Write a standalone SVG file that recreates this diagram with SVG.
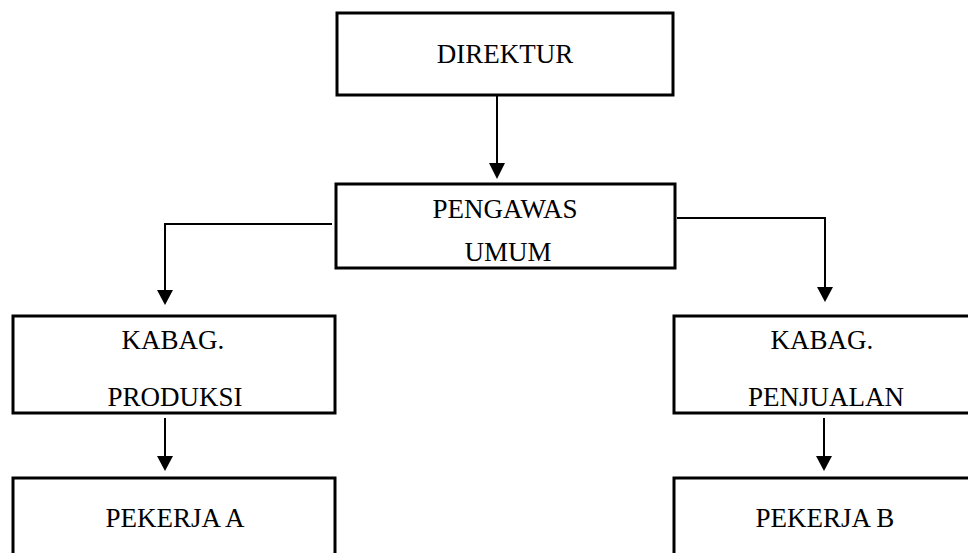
<svg xmlns="http://www.w3.org/2000/svg" width="968" height="553" viewBox="0 0 968 553">
<style>
.box{fill:#fff;stroke:#000;stroke-width:3}
.t{font-family:"Liberation Serif","Times New Roman",serif;font-size:27px;fill:#000;text-anchor:middle}
.c{fill:none;stroke:#000;stroke-width:2}
.h{fill:#000}
</style>
<rect width="968" height="553" fill="#fff"/>
<g id="direktur"><rect class="box" x="337" y="13" width="336" height="82"/><text class="t" x="505" y="63">DIREKTUR</text></g>
<g id="pengawas"><rect class="box" x="336" y="184" width="339" height="84"/><text class="t" x="505" y="218">PENGAWAS</text><text class="t" x="508" y="261">UMUM</text></g>
<g id="kabag-produksi"><rect class="box" x="13" y="316" width="322" height="97"/><text class="t" x="173" y="349">KABAG.</text><text class="t" x="175" y="406">PRODUKSI</text></g>
<g id="kabag-penjualan"><rect class="box" x="674" y="316" width="300" height="97"/><text class="t" x="822" y="349">KABAG.</text><text class="t" x="826" y="406">PENJUALAN</text></g>
<g id="pekerja-a"><rect class="box" x="13" y="478" width="322" height="90"/><text class="t" x="175" y="527">PEKERJA A</text></g>
<g id="pekerja-b"><rect class="box" x="674" y="478" width="300" height="90"/><text class="t" x="825" y="527">PEKERJA B</text></g>
<g id="connectors">
<path class="c" d="M497 95 V165"/><path class="h" d="M489 163 L505 163 L497 179 Z"/>
<path class="c" d="M332 224 H165 V292"/><path class="h" d="M157 290 L173 290 L165 305 Z"/>
<path class="c" d="M677 218 H825 V289"/><path class="h" d="M817 287 L833 287 L825 302 Z"/>
<path class="c" d="M165 418 V458"/><path class="h" d="M157 456 L173 456 L165 471 Z"/>
<path class="c" d="M824 418 V458"/><path class="h" d="M816 456 L832 456 L824 471 Z"/>
</g>
</svg>
